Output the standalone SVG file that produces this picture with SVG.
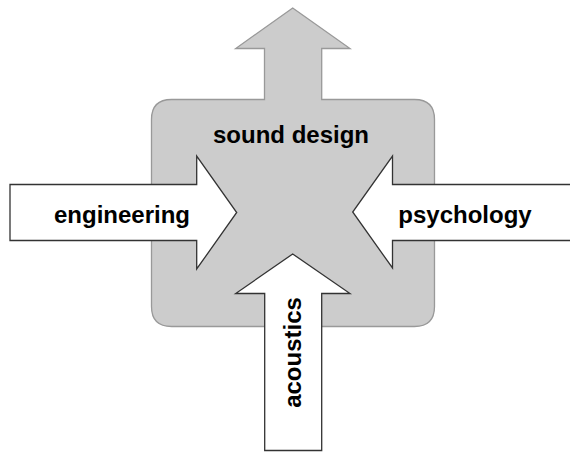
<svg xmlns="http://www.w3.org/2000/svg" width="570" height="452" viewBox="0 0 570 452">
<style>
.arrow{fill:#ffffff;stroke:#333333;stroke-width:1.3;stroke-linejoin:miter}
.core{fill:#cccccc;stroke:#999999;stroke-width:1.3}
.lbl{font-family:"Liberation Sans",Arial,Helvetica,sans-serif;font-weight:bold;font-size:24px;fill:#000000;text-anchor:middle}
</style>
<rect width="570" height="452" fill="#ffffff"/>
<g id="sound-design">
<path class="core" d="M264.5,99.5 L264.5,48.5 L235.7,48.5 L292.7,8 L350,48.5 L321.7,48.5 L321.7,99.5 L414.5,99.5 Q434.5,99.5 434.5,119.5 L434.5,306.5 Q434.5,326.5 414.5,326.5 L171.5,326.5 Q151.5,326.5 151.5,306.5 L151.5,119.5 Q151.5,99.5 171.5,99.5 Z"/>
<text class="lbl" x="291" y="143">sound design</text>
</g>
<g id="connectors">
<g id="engineering">
<path class="arrow" d="M10,184.5 L196.7,184.5 L196.7,156 L236.7,212.5 L196.7,269 L196.7,240.5 L10,240.5 Z"/>
<text class="lbl" x="122" y="222.5">engineering</text>
</g>
<g id="psychology">
<path class="arrow" d="M572,184.5 L392.5,184.5 L392.5,156 L352.7,212 L392.5,268 L392.5,240.5 L572,240.5 Z"/>
<text class="lbl" x="465" y="222.5">psychology</text>
</g>
<g id="acoustics">
<path class="arrow" d="M264.7,450.5 L264.7,293.5 L235.7,293.5 L292.7,254 L350,293.5 L321.7,293.5 L321.7,450.5 Z"/>
<text class="lbl" transform="translate(300.5,352.5) rotate(-90)" x="0" y="0">acoustics</text>
</g>
</g>
</svg>
